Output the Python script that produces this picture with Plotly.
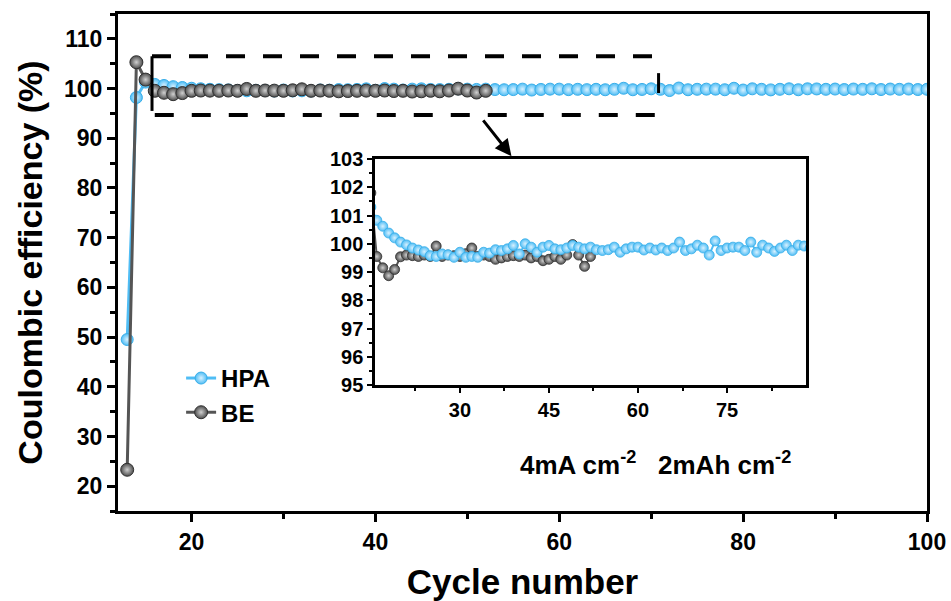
import plotly.graph_objects as go

# ---------------- data ----------------
hpa_cycles = list(range(13, 101))
hpa_ce = [49.5, 98.2, 101.3, 100.83, 100.62, 100.38, 100.21, 100.06, 99.96, 99.85,
          99.78, 99.72, 99.58, 99.55, 99.64, 99.61, 99.52, 99.70, 99.52, 99.55,
          99.52, 99.70, 99.67, 99.79, 99.76, 99.82, 99.94, 99.64, 100.0, 99.88,
          99.70, 99.88, 99.94, 99.82, 99.79, 99.85, 99.94, 99.88, 99.82, 99.88,
          99.79, 99.76, 99.79, 99.88, 99.70, 99.82, 99.88, 99.88, 99.78, 99.85,
          99.78, 99.85, 99.76, 99.85, 100.06, 99.76, 99.82, 99.95, 99.85, 99.60,
          100.10, 99.76, 99.85, 99.88, 99.88, 99.76, 100.06, 99.70, 99.95, 99.85,
          99.73, 99.85, 99.95, 99.76, 99.95, 99.92, 99.85, 99.90, 99.80, 99.90,
          99.85, 99.95, 99.80, 99.90, 99.85, 99.90, 99.80, 99.85]

be_cycles = list(range(13, 53))
be_ce = [23.3, 105.3, 101.8, 99.55, 99.15, 98.87, 99.09, 99.54, 99.60, 99.58,
         99.55, 99.60, 99.55, 99.92, 99.55, 99.60, 99.58, 99.55, 99.65, 99.85,
         99.55, 99.60, 99.55, 99.45, 99.50, 99.55, 99.58, 99.55, 99.60, 99.50,
         99.55, 99.40, 99.45, 99.55, 99.45, 99.60, 99.97, 99.60, 99.20, 99.55]

main_x_ticks = [20, 40, 60, 80, 100]
main_y_ticks = [20, 30, 40, 50, 60, 70, 80, 90, 100, 110]
inset_x_ticks = [30, 45, 60, 75]
inset_y_ticks = [95, 96, 97, 98, 99, 100, 101, 102, 103]

HPA_COLOR = "#4fbdf5"
HPA_EDGE = "#38aee9"
HPA_HILITE = "#d8f1ff"
BE_COLOR = "#4d4d4d"
BE_EDGE = "#303030"
BE_HILITE = "#d0d0d0"
FONT = "Liberation Sans, Arial, sans-serif"

fig = go.Figure()

# main traces
fig.add_trace(go.Scatter(
    x=hpa_cycles, y=hpa_ce, name="HPA", mode="lines+markers",
    line=dict(color=HPA_COLOR, width=3),
    marker=dict(size=12, color=HPA_COLOR, line=dict(color=HPA_EDGE, width=1),
                gradient=dict(type="radial", color=HPA_HILITE)),
    xaxis="x", yaxis="y"))
fig.add_trace(go.Scatter(
    x=be_cycles, y=be_ce, name="BE", mode="lines+markers",
    line=dict(color="#555555", width=3),
    marker=dict(size=13, color=BE_COLOR, line=dict(color=BE_EDGE, width=1),
                gradient=dict(type="radial", color=BE_HILITE)),
    xaxis="x", yaxis="y"))

# inset traces
fig.add_trace(go.Scatter(
    x=be_cycles, y=be_ce, name="BE", mode="lines+markers", showlegend=False,
    line=dict(color="#555555", width=2),
    marker=dict(size=10, color=BE_COLOR, line=dict(color=BE_EDGE, width=0.8),
                gradient=dict(type="radial", color=BE_HILITE)),
    xaxis="x2", yaxis="y2"))
fig.add_trace(go.Scatter(
    x=hpa_cycles, y=hpa_ce, name="HPA", mode="lines+markers", showlegend=False,
    line=dict(color=HPA_COLOR, width=2),
    marker=dict(size=10, color=HPA_COLOR, line=dict(color=HPA_EDGE, width=0.8),
                gradient=dict(type="radial", color=HPA_HILITE)),
    xaxis="x2", yaxis="y2"))

tickfont_main = dict(family=FONT, size=23, color="black", weight="bold")
tickfont_inset = dict(family=FONT, size=20, color="black", weight="bold")

axis_common = dict(showline=True, linecolor="black", mirror=True, ticks="outside",
                   tickcolor="black", showgrid=False, zeroline=False, automargin=False)

fig.update_layout(
    width=951, height=601,
    margin=dict(l=118, r=24, t=14, b=90),
    paper_bgcolor="white", plot_bgcolor="white",
    font=dict(family=FONT, color="black"),
    xaxis=dict(domain=[0, 1], range=[12, 100], tickvals=main_x_ticks,
               linewidth=3, ticklen=8, tickwidth=2.5, tickfont=tickfont_main,
               minor=dict(dtick=10, tick0=0, ticklen=5, tickwidth=2.5, tickcolor="black", ticks="outside"),
               title=dict(text="Cycle number", standoff=18,
                          font=dict(family=FONT, size=35, color="black", weight="bold")),
               **axis_common),
    yaxis=dict(domain=[0, 1], range=[15, 115], tickvals=main_y_ticks,
               linewidth=3, ticklen=8, tickwidth=2.5, tickfont=tickfont_main,
               minor=dict(dtick=5, tick0=0, ticklen=5, tickwidth=2.5, tickcolor="black", ticks="outside"),
               title=dict(text="Coulombic efficiency (%)", standoff=12,
                          font=dict(family=FONT, size=34, color="black", weight="bold")),
               **axis_common),
    xaxis2=dict(domain=[0.3177, 0.8504], range=[15.7, 88.3], anchor="y2",
                tickvals=inset_x_ticks, linewidth=2.5, ticklen=5, tickwidth=2,
                tickfont=tickfont_inset,
                minor=dict(dtick=7.5, tick0=0, ticklen=3, tickwidth=2, tickcolor="black", ticks="outside"),
                **axis_common),
    yaxis2=dict(domain=[0.2535, 0.7082], range=[95, 103], anchor="x2",
                tickvals=inset_y_ticks, linewidth=2.5, ticklen=5, tickwidth=2,
                tickfont=tickfont_inset,
                minor=dict(dtick=0.5, tick0=0, ticklen=3, tickwidth=1.5, tickcolor="black", ticks="outside"),
                **axis_common),
    legend=dict(x=0.078, y=0.312, xanchor="left", yanchor="top",
                bgcolor="rgba(0,0,0,0)", tracegroupgap=0,
                font=dict(family=FONT, size=24, color="black", weight="bold")),
    showlegend=True,
)

# dashed zoom box on the main plot
box_x0, box_x1 = 15.7, 70.8
box_y0, box_y1 = 94.7, 106.5
dash = "19px,18px"
fig.add_shape(type="line", xref="x", yref="y", x0=box_x0, x1=box_x1, y0=box_y1, y1=box_y1,
              line=dict(color="black", width=4, dash=dash))
fig.add_shape(type="line", xref="x", yref="y", x0=box_x0 + 0.3, x1=box_x1, y0=box_y0, y1=box_y0,
              line=dict(color="black", width=4, dash=dash))
fig.add_shape(type="line", xref="x", yref="y", x0=box_x0, x1=box_x0, y0=box_y0 + 0.8, y1=box_y1,
              line=dict(color="black", width=3))
fig.add_shape(type="line", xref="x", yref="y", x0=box_x1, x1=box_x1, y0=99.1, y1=103.1,
              line=dict(color="black", width=3))

# arrow pointing to the inset
fig.add_annotation(x=54.8, y=86.4, xref="x", yref="y", ax=51.6, ay=93.9,
                   axref="x", ayref="y", showarrow=True, arrowhead=2,
                   arrowsize=1.1, arrowwidth=3, arrowcolor="black", text="")

# condition text
fig.add_annotation(x=0.665, y=0.058, xref="paper", yref="paper", showarrow=False,
                   text="4mA cm<sup>-2</sup>&nbsp;&nbsp;&nbsp;2mAh cm<sup>-2</sup>",
                   font=dict(family=FONT, size=26, color="black", weight="bold"))

fig.write_html("out.html")
